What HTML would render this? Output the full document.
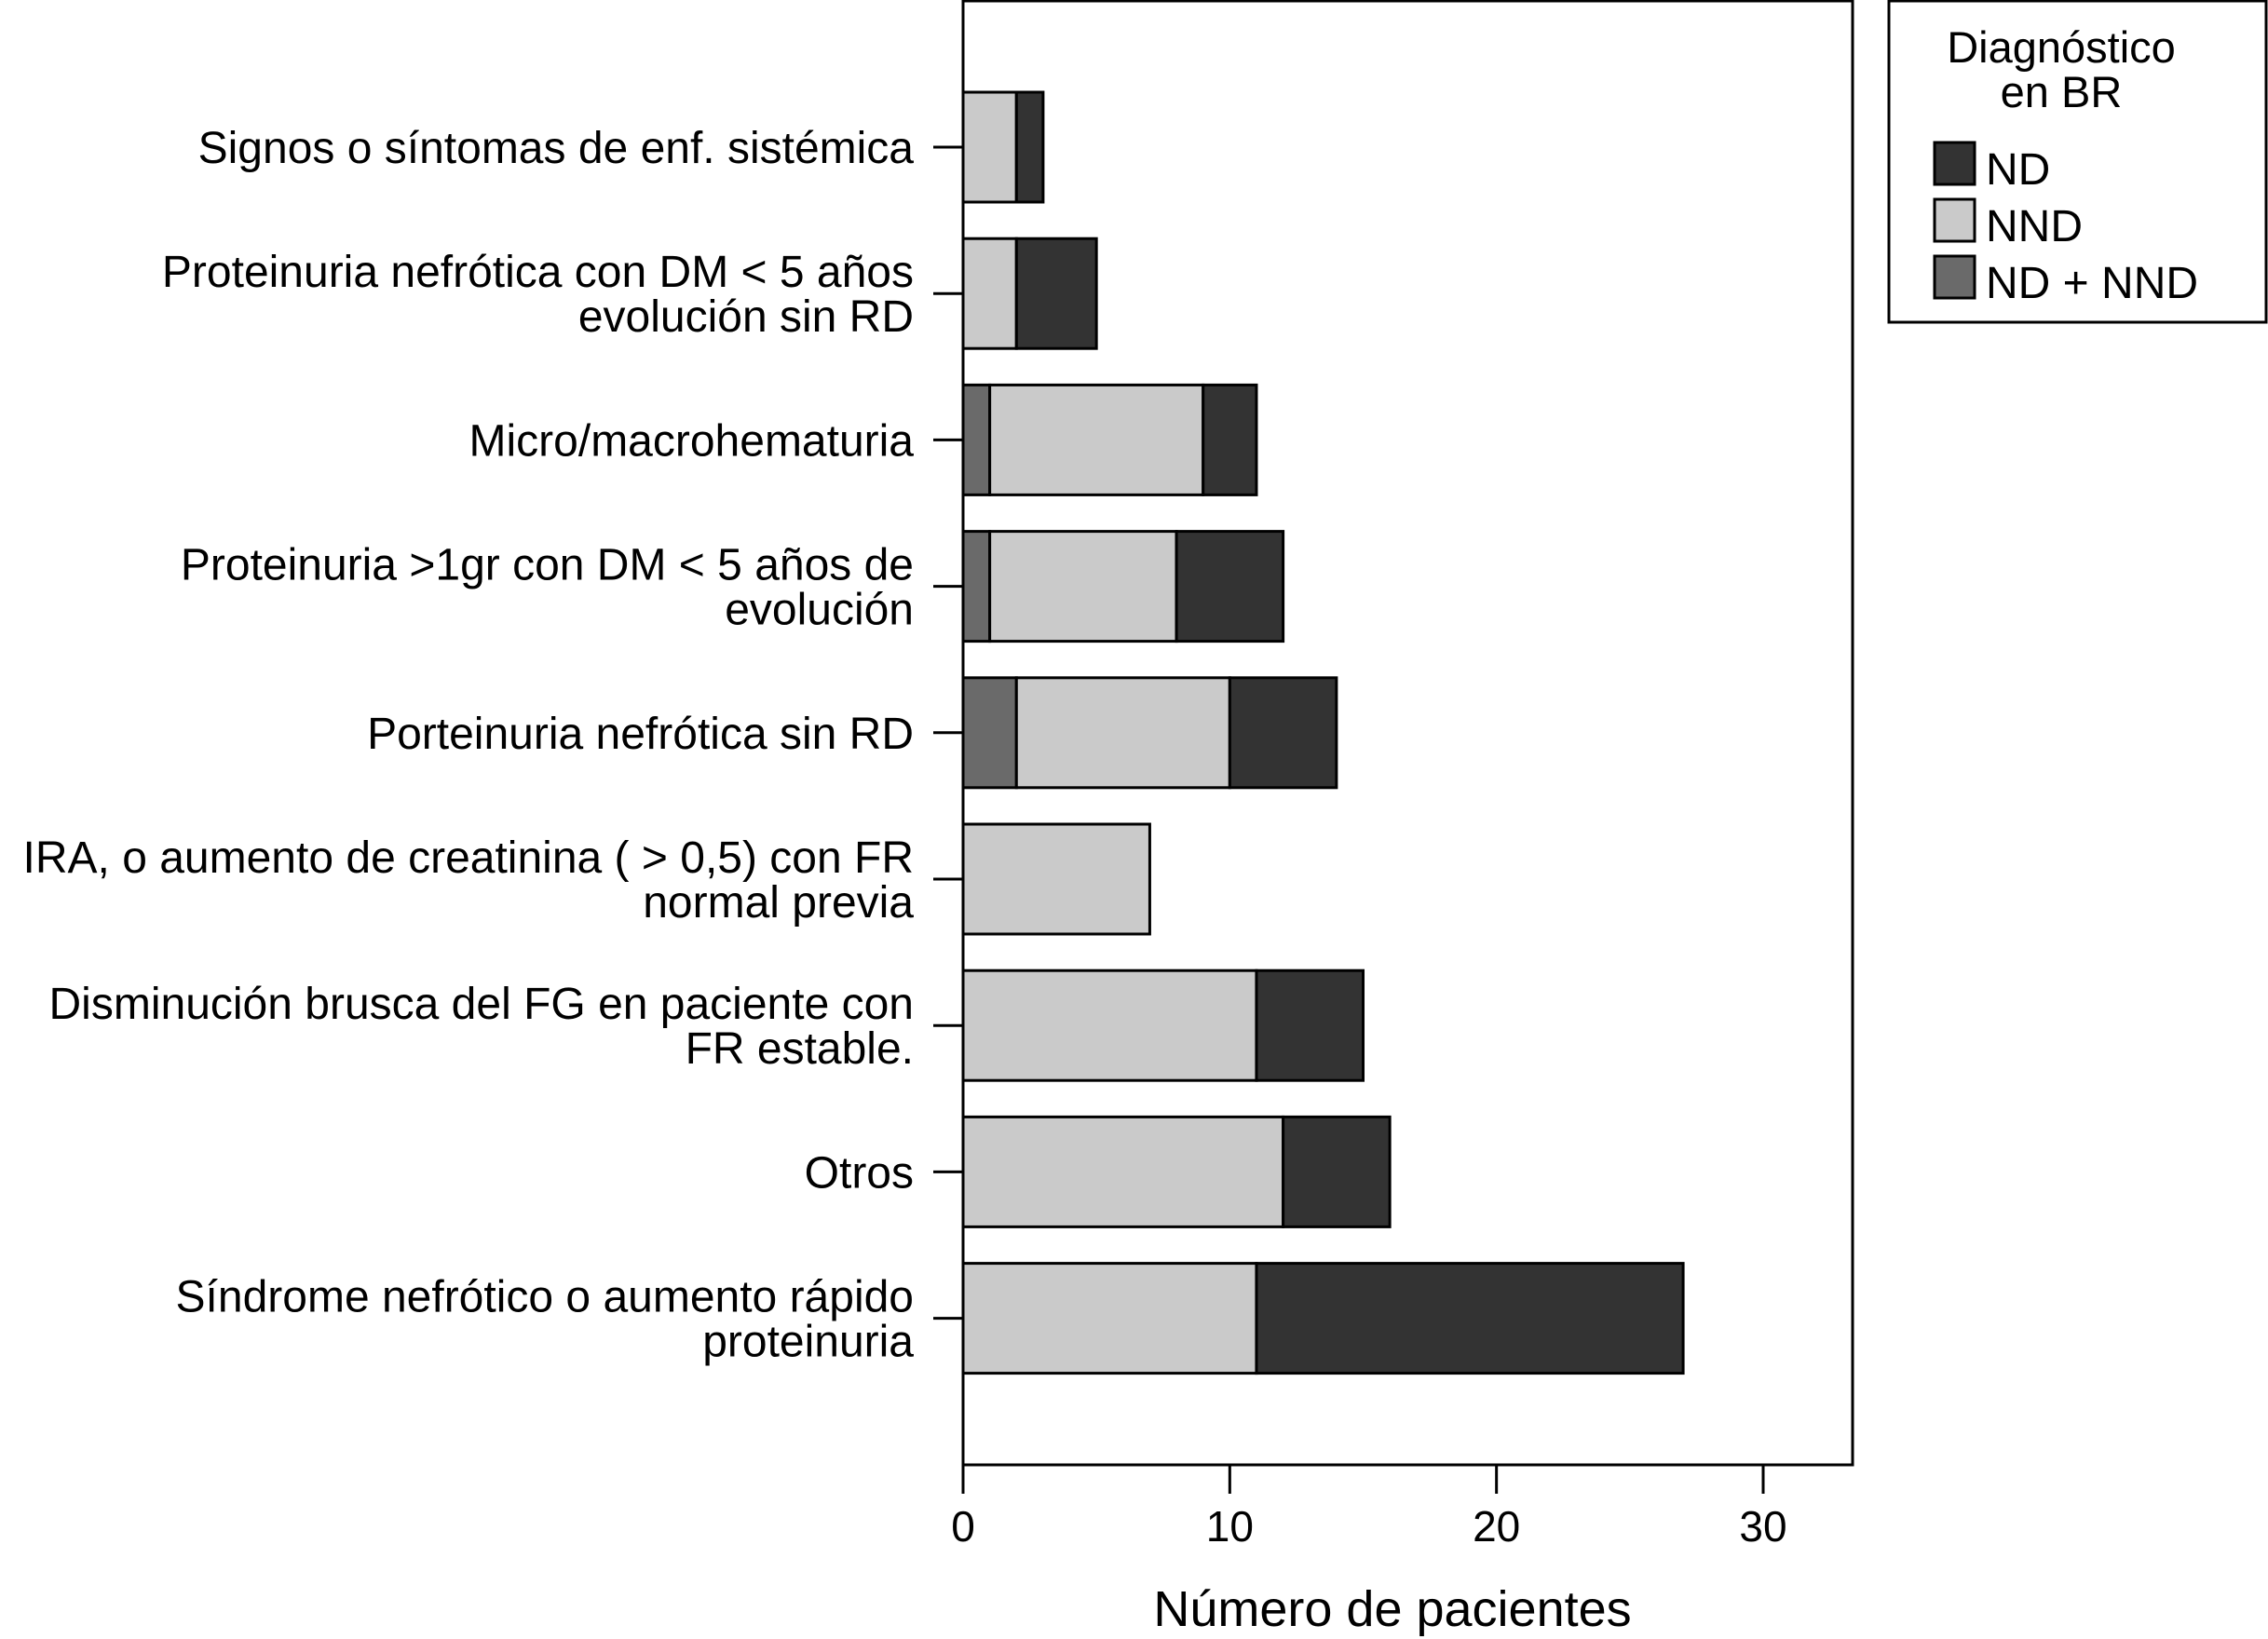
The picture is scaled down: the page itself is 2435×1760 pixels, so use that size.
<!DOCTYPE html>
<html><head><meta charset="utf-8"><style>
html,body{margin:0;padding:0;background:#fff;}
svg{display:block;font-family:"Liberation Sans",Arial,sans-serif;}
</style></head><body>
<svg id="chart" width="2435" height="1760" viewBox="0 0 2435 1760">
<rect x="1034" y="1" width="955" height="1572" fill="#fff" stroke="#000" stroke-width="3"/>
<g id="bars"></g>
<g id="yaxis"></g>
<g id="xaxis"></g>
<text x="1495" y="1746" font-size="54" text-anchor="middle">Número de pacientes</text>
<g>
<rect x="2028" y="1" width="405" height="345" fill="#fff" stroke="#000" stroke-width="3"/>
<text x="2213" y="67" font-size="47" text-anchor="middle">Diagnóstico</text>
<text x="2213" y="115" font-size="47" text-anchor="middle">en BR</text>
<g><rect x="2077" y="153" width="43" height="45" fill="#333" stroke="#000" stroke-width="3"/><text x="2132" y="198" font-size="48">ND</text></g>
<g><rect x="2077" y="214" width="43" height="45" fill="#cacaca" stroke="#000" stroke-width="3"/><text x="2132" y="259" font-size="48">NND</text></g>
<g><rect x="2077" y="275" width="43" height="45" fill="#6a6a6a" stroke="#000" stroke-width="3"/><text x="2132" y="320" font-size="48">ND + NND</text></g>
</g>
</svg>
<script>
const categories = [
 ["Signos o síntomas de enf. sistémica"],
 ["Proteinuria nefrótica con DM < 5 años","evolución sin RD"],
 ["Micro/macrohematuria"],
 ["Proteinuria >1gr con DM < 5 años de","evolución"],
 ["Porteinuria nefrótica sin RD"],
 ["IRA, o aumento de creatinina ( > 0,5) con FR","normal previa"],
 ["Disminución brusca del FG en paciente con","FR estable."],
 ["Otros"],
 ["Síndrome nefrótico o aumento rápido","proteinuria"]
];
const mixValues = [0,0,1,1,2,0,0,0,0];
const nndValues = [2,2,8,7,8,7,11,12,11];
const ndValues  = [1,3,2,4,4,0,4,4,16];
const xTicks = [0,10,20,30];
const NS="http://www.w3.org/2000/svg";
const x = v => 1034 + v*(1893-1034)/30;
const yc = i => 158 + i*157.2;
const barH = 118;
function mk(tag, attrs, parent){const e=document.createElementNS(NS,tag);for(const k in attrs)e.setAttribute(k,attrs[k]);parent.appendChild(e);return e;}
const bars=document.getElementById('bars'), ya=document.getElementById('yaxis'), xa=document.getElementById('xaxis');
categories.forEach((lines,i)=>{
  const segs=[[mixValues[i],'#6a6a6a','nd-nnd'],[nndValues[i],'#cacaca','nnd'],[ndValues[i],'#333','nd']];
  let acc=0;
  segs.forEach(s=>{
    if(s[0]>0){
      const r=mk('rect',{x:x(acc),y:yc(i)-barH/2,width:x(acc+s[0])-x(acc),height:barH,fill:s[1],stroke:'#000','stroke-width':3},bars);
      
      
      acc+=s[0];
    }
  });
  const t=mk('line',{x1:1002,x2:1034,y1:yc(i),y2:yc(i),stroke:'#000','stroke-width':3},ya);
  
  
  const n=lines.length;
  lines.forEach((ln,j)=>{
    const tx=mk('text',{x:981,y:yc(i)+17+(j-(n-1)/2)*48,'font-size':48,'text-anchor':'end'},ya);
    tx.textContent=ln;
    
    
  });
});
xTicks.forEach(v=>{
  const l=mk('line',{x1:x(v),x2:x(v),y1:1573,y2:1604,stroke:'#000','stroke-width':3},xa);
  
  
  const t=mk('text',{x:x(v),y:1655,'font-size':46,'text-anchor':'middle'},xa);
  t.textContent=v;
  
  
});
</script>
</body></html>
